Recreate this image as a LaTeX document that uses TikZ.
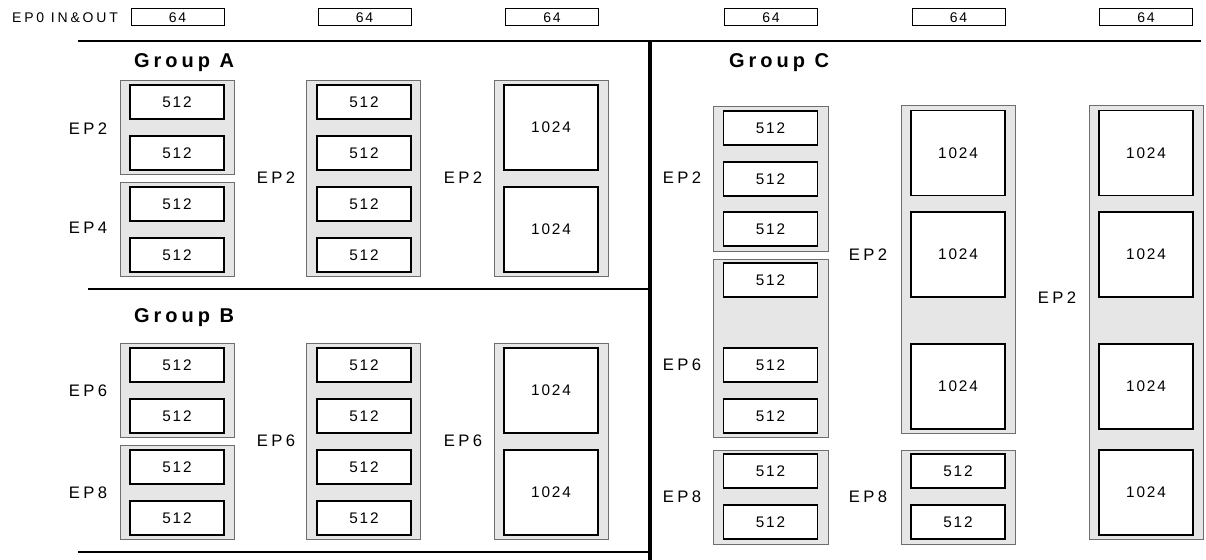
\documentclass[tikz,border=0pt]{standalone}
\usepackage{fontspec}
\setmainfont{Liberation Sans}
\newfontfamily\trackfont[LetterSpace=20]{Liberation Sans}
\newfontfamily\digitfont[LetterSpace=12]{Liberation Sans}
\usepackage{tikz}
\usetikzlibrary{positioning}
\usepackage{xcolor}
\definecolor{poolfill}{HTML}{E6E6E6}
\definecolor{poolline}{HTML}{6E6E6E}

\tikzset{
  pool/.style={draw=poolline, fill=poolfill, line width=0.6pt},
  bufsmall/.style={draw=black, fill=white, line width=0.9pt, inner sep=0pt, minimum width=70.5pt, minimum height=25.5pt, font=\digitfont\fontsize{11.5}{13}\selectfont},
  bufbig/.style={bufsmall, minimum height=63.75pt},
  zerobox/.style={draw=black, line width=0.75pt, inner sep=0pt, minimum width=69.75pt, minimum height=12.75pt, font=\digitfont\fontsize{10.5}{12}\selectfont},
  eplabel/.style={inner sep=0pt, font=\trackfont\fontsize{12.5}{14}\selectfont},
  grouptitle/.style={inner sep=0pt, font=\trackfont\bfseries\fontsize{15}{17}\selectfont},
  divider/.style={line width=1.5pt}
}

\begin{document}
\begin{tikzpicture}[x=0.75pt,y=0.75pt,yscale=-1,xscale=1]
\useasboundingbox (0,0) rectangle (1206,560);

% EP0 row
\node [eplabel, font=\trackfont\fontsize{10.5}{12}\selectfont] (ep0) at (65,17.5) {EP0 IN\&OUT};
\node [zerobox] (zeroA) at (177.5,17.5) {64};
\node [zerobox] (zeroB) at (364.5,17.5) {64};
\node [zerobox] (zeroC) at (552,17.5) {64};
\node [zerobox] (zeroD) at (771,17.5) {64};
\node [zerobox] (zeroE) at (958.5,17.5) {64};
\node [zerobox] (zeroF) at (1146,17.5) {64};

%Straight Lines
\draw [divider] (78,41.5) -- (1201,41.5) ;
\draw [divider] (88,289) -- (650,289) ;
\draw [divider] (78,552) -- (650,552) ;
\draw [line width=3pt] (650,41) -- (650,560) ;

% Group A
\node [grouptitle] (titleA) at (184,63) {Group A};
\draw [pool] (120,80) rectangle (234,174) ;
\draw [pool] (120,182) rectangle (234,276) ;
\draw [pool] (306,80) rectangle (420,276) ;
\draw [pool] (494,80) rectangle (608,276) ;
\node [bufsmall] (a11) at (177,102) {512};
\node [bufsmall] (a12) at (177,153) {512};
\node [bufsmall] (a13) at (177,204) {512};
\node [bufsmall] (a14) at (177,255) {512};
\node [bufsmall] (a21) at (364,102) {512};
\node [bufsmall] (a22) at (364,153) {512};
\node [bufsmall] (a23) at (364,204) {512};
\node [bufsmall] (a24) at (364,255) {512};
\node [bufbig] (a31) at (551,127.5) {1024};
\node [bufbig] (a32) at (551,229.5) {1024};
\node [eplabel] (epA1) at (88,129) {EP2};
\node [eplabel] (epA2) at (88,228) {EP4};
\node [eplabel] (epA3) at (276,178) {EP2};
\node [eplabel] (epA4) at (463,178) {EP2};

% Group B
\node [grouptitle] (titleB) at (184,318) {Group B};
\draw [pool] (120,343) rectangle (234,437) ;
\draw [pool] (120,445) rectangle (234,539) ;
\draw [pool] (306,343) rectangle (420,539) ;
\draw [pool] (494,343) rectangle (608,539) ;
\node [bufsmall] (b11) at (177,365) {512};
\node [bufsmall] (b12) at (177,416) {512};
\node [bufsmall] (b13) at (177,467) {512};
\node [bufsmall] (b14) at (177,518) {512};
\node [bufsmall] (b21) at (364,365) {512};
\node [bufsmall] (b22) at (364,416) {512};
\node [bufsmall] (b23) at (364,467) {512};
\node [bufsmall] (b24) at (364,518) {512};
\node [bufbig] (b31) at (551,390.5) {1024};
\node [bufbig] (b32) at (551,492.5) {1024};
\node [eplabel] (epB1) at (88,391) {EP6};
\node [eplabel] (epB2) at (88,493) {EP8};
\node [eplabel] (epB3) at (276,441) {EP6};
\node [eplabel] (epB4) at (463,441) {EP6};

% Group C
\node [grouptitle] (titleC) at (779,63) {Group C};
\draw [pool] (713,106) rectangle (828,251) ;
\draw [pool] (713,259) rectangle (828,437) ;
\draw [pool] (713,450) rectangle (828,544) ;
\draw [pool] (901,105) rectangle (1015,433) ;
\draw [pool] (901,450) rectangle (1015,544) ;
\draw [pool] (1089,105) rectangle (1203,539) ;
\node [bufsmall] (c11) at (770.5,128) {512};
\node [bufsmall] (c12) at (770.5,179) {512};
\node [bufsmall] (c13) at (770.5,229) {512};
\node [bufsmall] (c14) at (770.5,280) {512};
\node [bufsmall] (c15) at (770.5,365) {512};
\node [bufsmall] (c16) at (770.5,416) {512};
\node [bufsmall] (c17) at (770.5,471) {512};
\node [bufsmall] (c18) at (770.5,522) {512};
\node [bufbig] (c21) at (958,153) {1024};
\node [bufbig] (c22) at (958,254.5) {1024};
\node [bufbig] (c23) at (958,386.5) {1024};
\node [bufsmall] (c24) at (958,471) {512};
\node [bufsmall] (c25) at (958,522) {512};
\node [bufbig] (c31) at (1146,153) {1024};
\node [bufbig] (c32) at (1146,254.5) {1024};
\node [bufbig] (c33) at (1146,386.5) {1024};
\node [bufbig] (c34) at (1146,492.5) {1024};
\node [eplabel] (epC1) at (682,178) {EP2};
\node [eplabel] (epC2) at (682,365) {EP6};
\node [eplabel] (epC3) at (682,497) {EP8};
\node [eplabel] (epC4) at (868,255) {EP2};
\node [eplabel] (epC5) at (868,497) {EP8};
\node [eplabel] (epC6) at (1057,298) {EP2};

\end{tikzpicture}
\end{document}
